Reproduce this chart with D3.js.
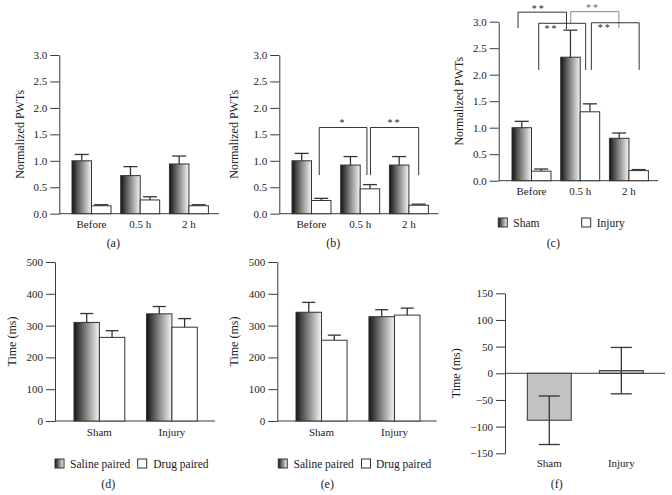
<!DOCTYPE html>
<html><head><meta charset="utf-8">
<script src="https://cdn.jsdelivr.net/npm/d3@7"></script>
<style>
body{margin:0;background:#fff}
svg{display:block}
</style>
</head><body>
<svg id="chart" width="672" height="495"></svg>
<script>
// ---------- data ----------
const timePoints = ["Before", "0.5 h", "2 h"];
const pwtSeries = ["Sham", "Injury"];
const aSham = [1.00, 0.72, 0.94],  aShamErr = [0.12, 0.17, 0.15];
const aInjury = [0.15, 0.26, 0.15], aInjuryErr = [0.02, 0.06, 0.02];
const bSham = [1.00, 0.92, 0.92],  bShamErr = [0.14, 0.16, 0.16];
const bInjury = [0.25, 0.47, 0.16], bInjuryErr = [0.04, 0.08, 0.02];
const cSham = [1.00, 2.33, 0.80],  cShamErr = [0.12, 0.51, 0.10];
const cInjury = [0.18, 1.30, 0.19], cInjuryErr = [0.04, 0.15, 0.02];
const pwtTicks = [0, 0.5, 1.0, 1.5, 2.0, 2.5, 3.0];

const groups = ["Sham", "Injury"];
const pairSeries = ["Saline paired", "Drug paired"];
const dSaline = [310, 337], dSalineErr = [28, 23];
const dDrug = [263, 295],   dDrugErr = [21, 27];
const eSaline = [342, 328], eSalineErr = [31, 22];
const eDrug = [254, 333],   eDrugErr = [16, 22];
const timeTicks = [0, 100, 200, 300, 400, 500];

const fDiff = [-88, 5], fErr = [45.5, 43.5];
const diffTicks = [-150, -100, -50, 0, 50, 100, 150];

// significance brackets (value units)
const bBrackets = [
  {from: ["Before", "Injury"], to: ["0.5 h", "Injury"], top: 1.63, bottom: [0.73, 0.73], label: "*"},
  {from: ["0.5 h", "Injury"], to: ["2 h", "Injury"], top: 1.63, bottom: [0.73, 0.73], label: "**"}
];
const cBrackets = [
  {from: ["Before", "Sham"], to: ["0.5 h", "Sham"], top: 3.18, bottom: [2.88, 2.86], label: "**"},
  {from: ["0.5 h", "Sham"], to: ["2 h", "Sham"], top: 3.19, bottom: [2.97, 2.88], label: "**"},
  {from: ["Before", "Injury"], to: ["0.5 h", "Injury"], top: 2.97, bottom: [2.09, 2.09], label: "**"},
  {from: ["0.5 h", "Injury"], to: ["2 h", "Injury"], top: 2.98, bottom: [2.09, 2.09], label: "**"}
];
// bracket drawing styles (pixel nudges, label placement, colour)
const bBracketStyle = [
  {nudge: [-2, -3], at: 0.5, dy: -1.5, color: "#333"},
  {nudge: [0.5, 0], at: 0.5, dy: -1.5, color: "#333"}
];
const cBracketStyle = [
  {nudge: [-3.7, -4], at: 0.43, dy: -0.5, color: "#333"},
  {nudge: [0.3, -0.3], at: 0.46, dy: -0.5, color: "#8a8a8a"},
  {nudge: [-2.5, -4.3], at: 0.27, dy: 8.5, color: "#333"},
  {nudge: [1.4, 0.5], at: 0.28, dy: 8.5, color: "#333"}
];

// ---------- drawing ----------
const FONT = "'Liberation Serif', 'Times New Roman', Times, 'DejaVu Serif', serif";
const svg = d3.select("#chart");
const defs = svg.append("defs");
const grad = defs.append("linearGradient").attr("id", "grad")
  .attr("x1", 0).attr("x2", 1).attr("y1", 0).attr("y2", 0);
grad.append("stop").attr("offset", 0).attr("stop-color", "#141414");
grad.append("stop").attr("offset", 0.45).attr("stop-color", "#7e7e7e");
grad.append("stop").attr("offset", 1).attr("stop-color", "#f6f6f6");

const AX = "#3a3a3a";

function panel(o) {
  const g = svg.append("g").attr("font-family", FONT);
  const y = d3.scaleLinear().domain(o.yDomain).range(o.yRange);
  const x0 = d3.scaleBand().domain(o.cats).range(o.xRange).paddingInner(o.padIn).paddingOuter(0);
  const x1 = d3.scaleBand().domain(o.series).range([0, x0.bandwidth()]);

  // y axis
  const ya = g.append("g").attr("transform", `translate(${o.axisX},0)`)
    .call(d3.axisLeft(y).tickValues(o.ticks).tickFormat(o.fmt).tickSize(9).tickSizeOuter(0).tickPadding(3));
  ya.attr("font-family", FONT).attr("font-size", null);
  ya.selectAll("text").style("font-size", "11px");
  ya.selectAll("line,path").attr("stroke", AX);

  // x baseline
  const base = o.baseValue !== undefined ? o.baseValue : o.yDomain[0];
  g.append("line").attr("x1", o.axisX).attr("x2", o.axisEnd)
    .attr("y1", y(base)).attr("y2", y(base)).attr("stroke", AX);

  // category labels
  const xa = g.append("g").attr("transform", `translate(0,${y(o.yDomain[0])})`)
    .call(d3.axisBottom(d3.scaleBand().domain(o.cats).range(o.xRange).paddingInner(o.padIn).paddingOuter(0))
      .tickSize(0).tickPadding(o.catPad || 7));
  xa.attr("font-family", FONT);
  xa.select(".domain").remove();
  xa.selectAll("text").style("font-size", "11px");

  // bars
  o.values.forEach((vals, j) => {
    const s = o.series[j];
    vals.forEach((v, i) => {
      const c = o.cats[i];
      const bx = x0(c) + x1(s), bw = x1.bandwidth();
      g.append("rect")
        .attr("x", bx).attr("width", bw)
        .attr("y", Math.min(y(v), y(0))).attr("height", Math.abs(y(v) - y(0)))
        .attr("fill", o.fills[j]).attr("stroke", "#333").attr("stroke-width", 1);
      const e = o.errs[j][i];
      const cx = bx + bw / 2;
      const yTop = y(v + e), yBot = o.twoSided ? y(v - e) : y(v);
      g.append("line").attr("x1", cx).attr("x2", cx).attr("y1", yTop).attr("y2", yBot)
        .attr("stroke", "#333").attr("stroke-width", 1.3);
      g.append("line").attr("x1", cx - o.cap / 2).attr("x2", cx + o.cap / 2)
        .attr("y1", yTop).attr("y2", yTop).attr("stroke", "#333").attr("stroke-width", 1.3);
      if (o.twoSided) {
        g.append("line").attr("x1", cx - o.cap / 2).attr("x2", cx + o.cap / 2)
          .attr("y1", yBot).attr("y2", yBot).attr("stroke", "#333").attr("stroke-width", 1.3);
      }
    });
  });

  // brackets
  (o.brackets || []).forEach((b, k) => {
    const st = o.bracketStyle[k];
    const xa1 = x0(b.from[0]) + x1(b.from[1]) + x1.bandwidth() / 2 + st.nudge[0];
    const xa2 = x0(b.to[0]) + x1(b.to[1]) + x1.bandwidth() / 2 + st.nudge[1];
    const p = d3.path();
    p.moveTo(xa1, y(b.bottom[0])); p.lineTo(xa1, y(b.top));
    p.lineTo(xa2, y(b.top)); p.lineTo(xa2, y(b.bottom[1]));
    g.append("path").attr("d", p.toString()).attr("fill", "none")
      .attr("stroke", st.color).attr("stroke-width", 1);
    g.append("text").attr("x", xa1 + (xa2 - xa1) * st.at).attr("y", y(b.top) + st.dy)
      .attr("text-anchor", "middle").style("font-size", "10px").style("letter-spacing", "2px")
      .attr("fill", st.color === "#333" ? "#222" : "#666")
      .text(b.label);
  });

  // y label
  g.append("text").attr("transform", `translate(${o.yLabelX},${(o.yRange[0] + o.yRange[1]) / 2}) rotate(-90)`)
    .attr("text-anchor", "middle").attr("dy", "0.35em").style("font-size", "12px").attr("fill", "#222").text(o.yLabel);

  // legend
  if (o.legend) {
    o.legend.items.forEach((it, j) => {
      g.append("rect").attr("x", it.sx).attr("y", o.legend.y - 4.5).attr("width", 9).attr("height", 9)
        .attr("fill", o.fills[j]).attr("stroke", "#333");
      g.append("text").attr("x", it.tx).attr("y", o.legend.y).attr("dy", "0.35em")
        .style("font-size", "11.5px").attr("fill", "#222").text(o.series[j]);
    });
  }
  // caption
  g.append("text").attr("x", o.capX).attr("y", o.capY).attr("dy", "0.35em")
    .attr("text-anchor", "middle").style("font-size", "12px").attr("fill", "#222").text(o.caption);

  g.selectAll("text").style("font-family", FONT).attr("fill", function () { return d3.select(this).attr("fill") === "currentColor" ? "#222" : d3.select(this).attr("fill"); });
}

const fmt1 = d3.format(".1f");
const fmtInt = d => d < 0 ? "\u2212" + Math.abs(d) : String(d);
const twoFills = ["url(#grad)", "#fff"];

panel({cats: timePoints, series: pwtSeries, values: [aSham, aInjury], errs: [aShamErr, aInjuryErr],
  yDomain: [0, 3], yRange: [213.7, 55], ticks: pwtTicks, fmt: fmt1,
  xRange: [72, 208.4], padIn: 0.2, axisX: 59.3, axisEnd: 219, cap: 14, fills: twoFills,
  yLabel: "Normalized PWTs", yLabelX: 20, caption: "(a)", capX: 113.3, capY: 243});

panel({cats: timePoints, series: pwtSeries, values: [bSham, bInjury], errs: [bShamErr, bInjuryErr],
  yDomain: [0, 3], yRange: [213.7, 55], ticks: pwtTicks, fmt: fmt1,
  xRange: [292, 428.4], padIn: 0.2, axisX: 279.3, axisEnd: 438.5, cap: 14, fills: twoFills,
  brackets: bBrackets, bracketStyle: bBracketStyle,
  yLabel: "Normalized PWTs", yLabelX: 234, caption: "(b)", capX: 333.3, capY: 243});

panel({cats: timePoints, series: pwtSeries, values: [cSham, cInjury], errs: [cShamErr, cInjuryErr],
  yDomain: [0, 3], yRange: [180.7, 21.7], ticks: pwtTicks, fmt: fmt1,
  xRange: [512, 648.4], padIn: 0.2, axisX: 498.7, axisEnd: 658, cap: 14, fills: twoFills,
  brackets: cBrackets, bracketStyle: cBracketStyle,
  legend: {y: 222.5, items: [{sx: 498.3, tx: 513.3}, {sx: 581.7, tx: 596.7}]},
  yLabel: "Normalized PWTs", yLabelX: 458.3, caption: "(c)", capX: 553.3, capY: 242.7});

panel({cats: groups, series: pairSeries, values: [dSaline, dDrug], errs: [dSalineErr, dDrugErr],
  yDomain: [0, 500], yRange: [421, 262], ticks: timeTicks, fmt: fmtInt,
  xRange: [74, 197.3], padIn: 0.3, axisX: 55, axisEnd: 215, cap: 13, fills: twoFills,
  legend: {y: 463.5, items: [{sx: 55, tx: 70}, {sx: 137.7, tx: 153.3}]},
  yLabel: "Time (ms)", yLabelX: 12, caption: "(d)", capX: 108.3, capY: 483.3});

panel({cats: groups, series: pairSeries, values: [eSaline, eDrug], errs: [eSalineErr, eDrugErr],
  yDomain: [0, 500], yRange: [421, 262], ticks: timeTicks, fmt: fmtInt,
  xRange: [296, 420], padIn: 0.3, axisX: 277.3, axisEnd: 436.7, cap: 13, fills: twoFills,
  legend: {y: 463.5, items: [{sx: 278.3, tx: 293.5}, {sx: 361.5, tx: 376}]},
  yLabel: "Time (ms)", yLabelX: 233.5, caption: "(e)", capX: 327.3, capY: 483.3});

panel({cats: groups, series: ["Difference"], values: [fDiff], errs: [fErr], twoSided: true,
  yDomain: [-150, 150], yRange: [453.3, 293.3], ticks: diffTicks, fmt: fmtInt, baseValue: 0,
  xRange: [527.3, 643.3], padIn: 0.39, axisX: 505, axisEnd: 665, cap: 21, fills: ["#c2c2c2"],
  catPad: 5.5,
  yLabel: "Time (ms)", yLabelX: 456, caption: "(f)", capX: 556.7, capY: 483.3});
</script>
</body></html>
